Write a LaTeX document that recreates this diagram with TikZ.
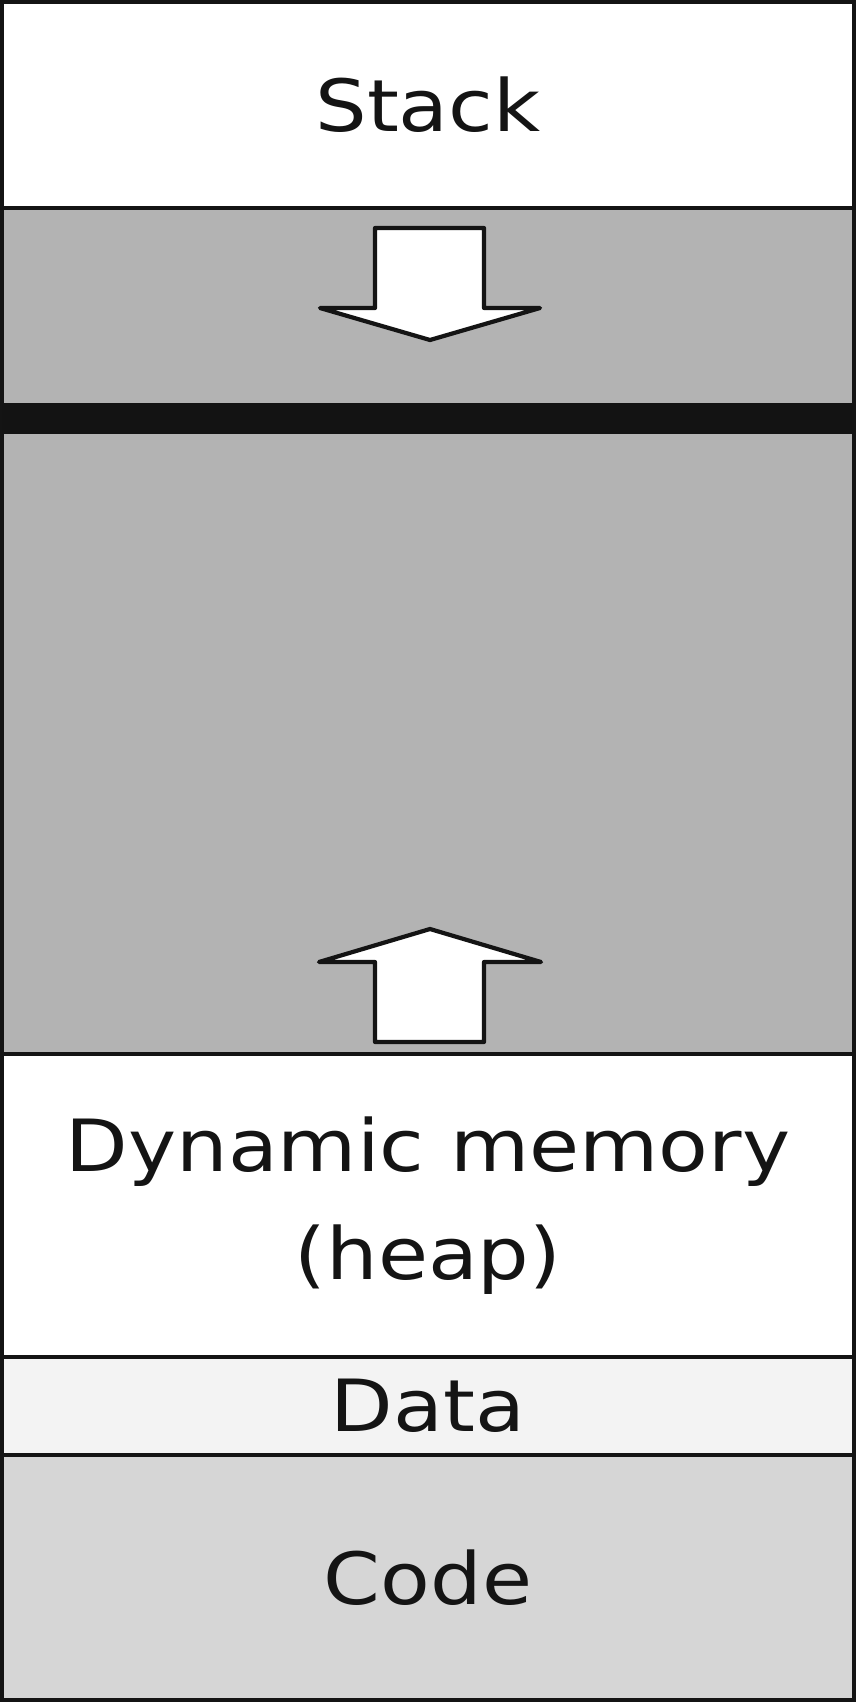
\documentclass[tikz,border=0pt]{standalone}
\usepackage{fontspec}
\setmainfont[FakeStretch=1.13]{DejaVu Sans}
\begin{document}
\begin{tikzpicture}[x=0.5pt,y=-0.5pt,
  region/.style={draw=black!92, line width=2pt, minimum width=426pt, inner sep=0pt, outer sep=0pt, align=center,
     font=\fontsize{36}{54}\selectfont, text=black!92},
  arrowshape/.style={draw=black!92, fill=white, line width=2.1pt, line join=round}
]
\useasboundingbox (0,0) rectangle (856,1702);
\definecolor{freegray}{HTML}{B3B3B3}
\definecolor{datagray}{HTML}{F3F3F3}
\definecolor{codegray}{HTML}{D6D6D6}
\definecolor{barblack}{HTML}{131313}
% regions
\node[region, fill=freegray, minimum height=423pt] (free) at (428,631) {};
\node[region, fill=white, minimum height=103pt] (stack) at (428,105) {Stack};
\node[region, fill=white, minimum height=151.5pt] (dyn) at (428,1205.5) {Dynamic memory\\(heap)};
\node[region, fill=datagray, minimum height=49pt] (data) at (428,1406) {Data};
\node[region, fill=codegray, minimum height=122.5pt] (code) at (428,1577.5) {Code};
% break bar
\node[fill=barblack, minimum width=426pt, minimum height=15.5pt, inner sep=0pt, outer sep=0pt] (bar) at (428,418.5) {};
% arrows
\draw[arrowshape] (375,228) -- (484,228) -- (484,308) -- (540,308) -- (430,340) -- (320,308) -- (375,308) -- cycle;
\draw[arrowshape] (375,1042) -- (484,1042) -- (484,962) -- (541,962) -- (430,929) -- (319,962) -- (375,962) -- cycle;
\end{tikzpicture}
\end{document}
